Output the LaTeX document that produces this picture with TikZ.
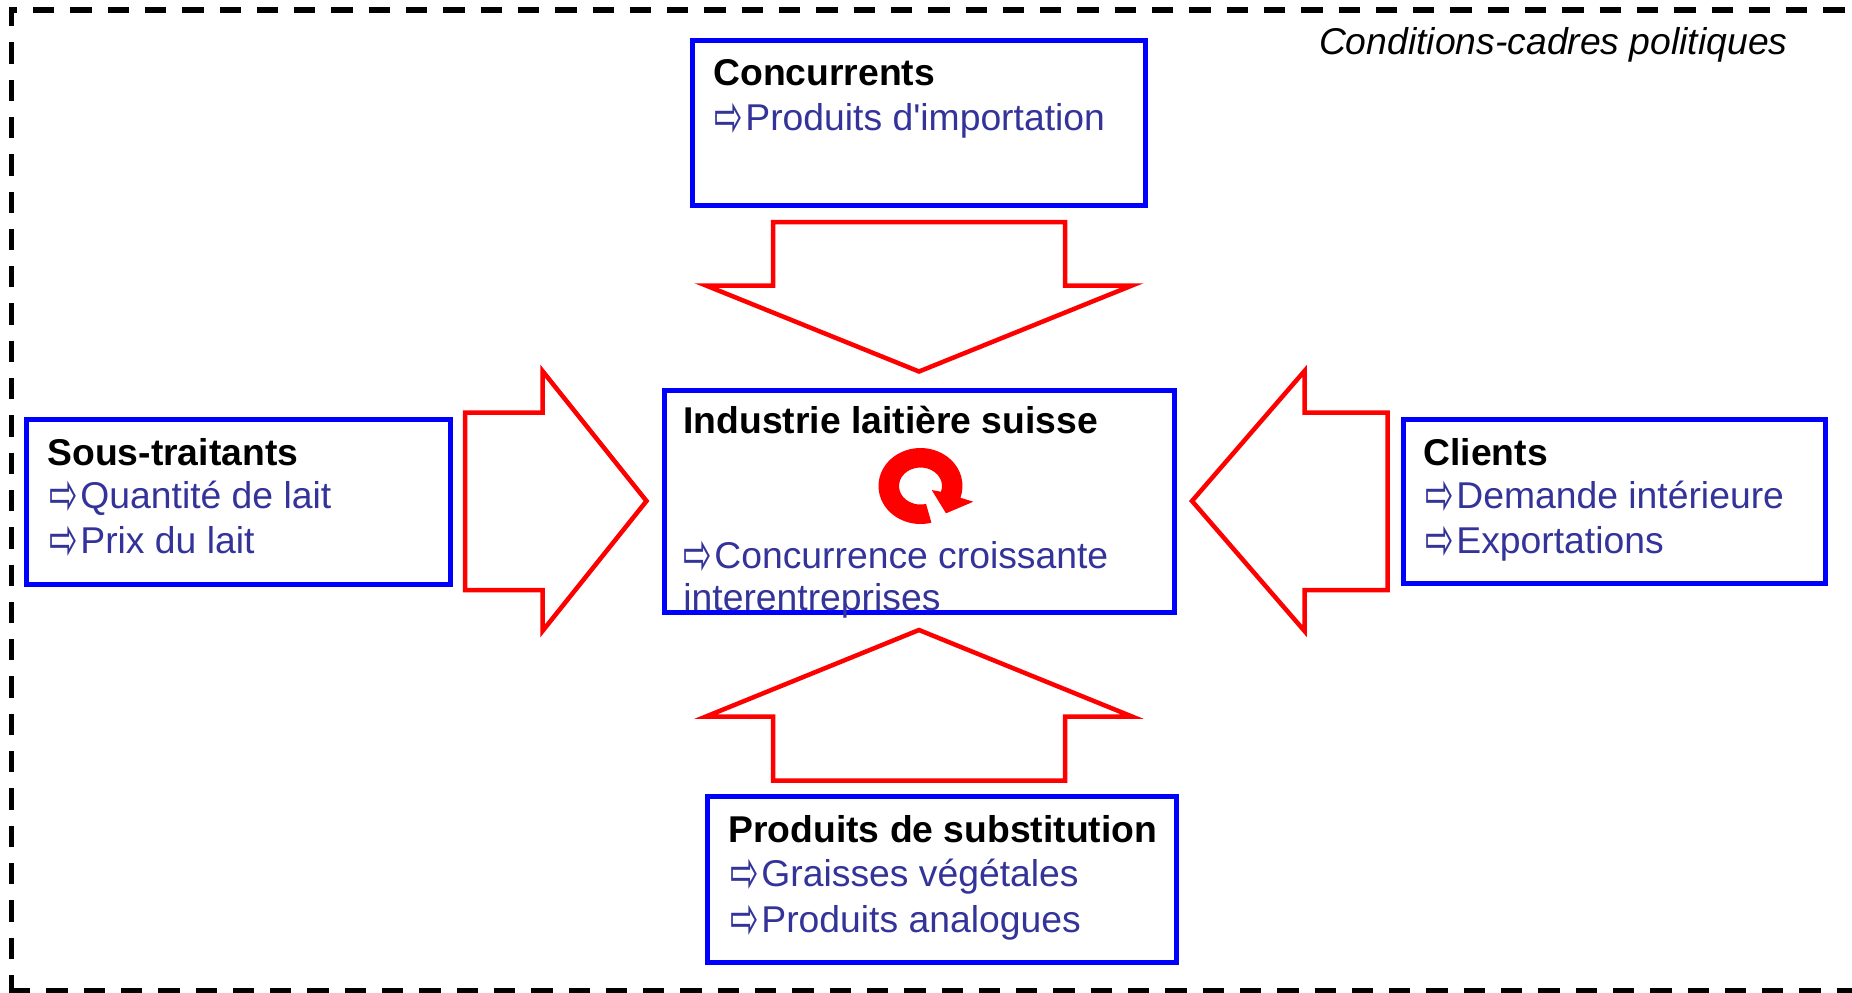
\documentclass[tikz,border=0pt]{standalone}
\usepackage{fontspec}
\usepackage{graphicx}
\setmainfont{Liberation Sans}[Ligatures=TeXOff]
\newfontfamily\dejavu{DejaVu Sans}
\definecolor{boxblue}{RGB}{0,0,255}
\definecolor{bultext}{RGB}{51,51,153}
\definecolor{arrred}{RGB}{255,0,0}
\newcommand{\fsz}{\fontsize{18.65pt}{22pt}\selectfont}
\newcommand{\rarr}{\makebox[15.5pt][l]{\smash{\raisebox{-3.5pt}{\scalebox{1}[1.8]{\dejavu\fontsize{17pt}{17pt}\selectfont ⇨}}}}}
\begin{document}
\begin{tikzpicture}[x=0.5pt,y=-0.5pt,
  box/.style={draw=boxblue, line width=2.5pt, inner sep=0pt, fill=white},
  blockarrow/.style={draw=arrred, line width=2.25pt, fill=white, line join=miter},
  ttl/.style={anchor=base west, inner sep=0pt, font=\fsz\bfseries, text=black},
  bul/.style={anchor=base west, inner sep=0pt, font=\fsz, text=bultext},
  frameline/.style={draw=black, line width=2.65pt, dash pattern=on 10.65pt off 8pt}]
\useasboundingbox (0,0) rectangle (1852,992);
\clip (0,0) rectangle (1852,992);
% dashed frame (right side falls outside the picture)
\coordinate (ftl) at (11.7,7.3);
\coordinate (fbl) at (11.7,1000);
\coordinate (ttl0) at (9,10);
\coordinate (ttr0) at (1870,10);
\coordinate (btl0) at (9,991);
\coordinate (btr0) at (1870,991);
\draw[frameline, dash phase=1.15pt] (ftl) -- (fbl);
\draw[frameline, dash phase=6.65pt] (ttl0) -- (ttr0);
\draw[frameline] (btl0) -- (btr0);
% boxes
\node[box, minimum width=226.5pt, minimum height=82.5pt] (conc) at (919,123) {};
\node[box, minimum width=212pt, minimum height=82.5pt] (sous) at (238.5,502) {};
\node[box, minimum width=255pt, minimum height=111pt] (ind) at (919.5,501.5) {};
\node[box, minimum width=211pt, minimum height=82pt] (cli) at (1614.5,501.5) {};
\node[box, minimum width=234.5pt, minimum height=83pt] (subst) at (942,879.5) {};
% block arrows
\draw[blockarrow] (773,222) -- (1065,222) -- (1065,285.5) -- (1132,285.5) -- (919,371.5) -- (706,285.5) -- (773,285.5) -- cycle;
\draw[blockarrow] (773,780.5) -- (1065,780.5) -- (1065,716.5) -- (1132,716.5) -- (919,630) -- (706,716.5) -- (773,716.5) -- cycle;
\draw[blockarrow] (465,412.5) -- (542.5,412.5) -- (542.5,371) -- (646.5,501) -- (542.5,631) -- (542.5,590) -- (465,590) -- cycle;
\draw[blockarrow] (1387.5,412.5) -- (1304.5,412.5) -- (1304.5,371) -- (1192,501) -- (1304.5,631) -- (1304.5,590) -- (1387.5,590) -- cycle;
% cycle icon
\begin{scope}[shift={(920.5,486)}, x=0.5pt, y=0.5pt]
\fill[arrred] (-75:42 and 38) arc[start angle=-75, end angle=-378, x radius=42, y radius=38]
  -- (52.8,-15.7) -- (25.5,-27.3) -- (11.2,-4) -- (-378:21.5 and 18.5)
  arc[start angle=-378, end angle=-75, x radius=21.5, y radius=18.5] -- cycle;
\end{scope}
% texts
\node[anchor=base east, inner sep=0pt, font=\fsz\itshape] (cond) at (1788,54) {Conditions-cadres politiques};
\node[ttl] (concT) at (713,85) {Concurrents};
\node[bul] (concB) at (714,130) {\rarr Produits d'importation};
\node[ttl] (sousT) at (47,465) {Sous-traitants};
\node[bul] (sousB1) at (49,508) {\rarr Quantité de lait};
\node[bul] (sousB2) at (49,553) {\rarr Prix du lait};
\node[ttl] (indT) at (683,433) {Industrie laitière suisse};
\node[bul] (indB1) at (683,568) {\rarr Concurrence croissante};
\node[bul] (indB2) at (683,610) {interentreprises};
\node[ttl] (cliT) at (1423,465) {Clients};
\node[bul] (cliB1) at (1425,508) {\rarr Demande intérieure};
\node[bul] (cliB2) at (1425,553) {\rarr Exportations};
\node[ttl] (subT) at (728,842) {Produits de substitution};
\node[bul] (subB1) at (730,886) {\rarr Graisses végétales};
\node[bul] (subB2) at (730,932) {\rarr Produits analogues};
\end{tikzpicture}
\end{document}
